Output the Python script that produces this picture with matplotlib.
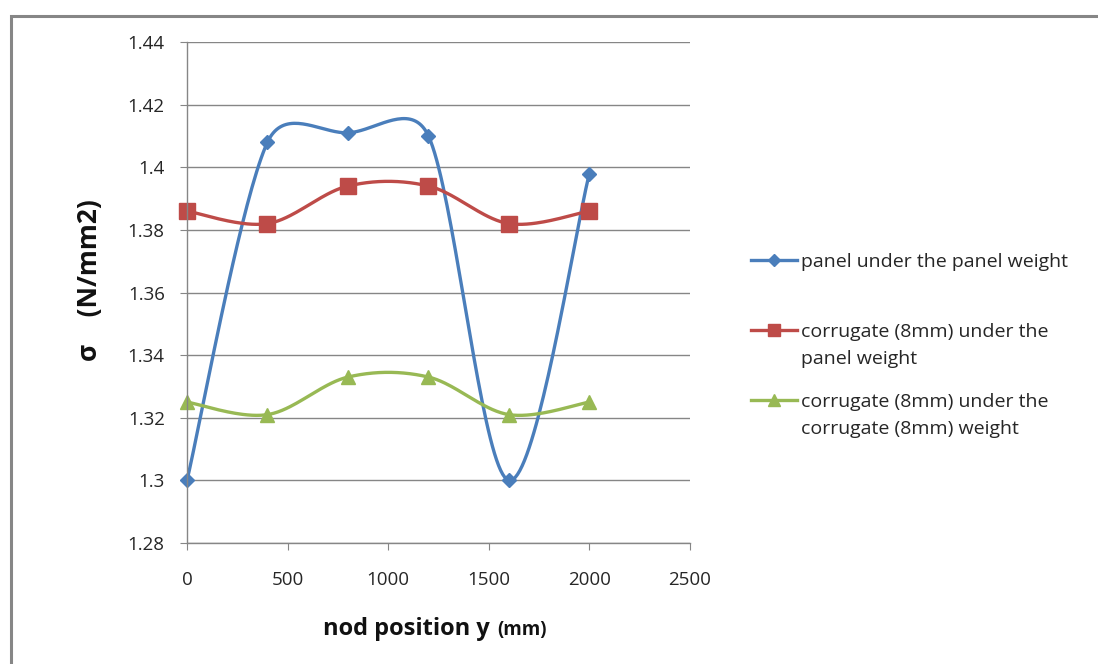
import numpy as np
import matplotlib.pyplot as plt
from matplotlib.patches import Rectangle
from matplotlib.lines import Line2D

plt.rcParams['font.family'] = ['Open Sans', 'DejaVu Sans']

# data
y_pos = [0, 400, 800, 1200, 1600, 2000]
panel_panel = [1.300, 1.408, 1.411, 1.410, 1.300, 1.398]
corr_panel = [1.386, 1.382, 1.394, 1.394, 1.382, 1.386]
corr_corr = [1.325, 1.321, 1.333, 1.333, 1.321, 1.325]

labels = ["panel under the panel weight",
          "corrugate (8mm) under the\npanel weight",
          "corrugate (8mm) under the\ncorrugate (8mm) weight"]
colors = ["#4A7EBB", "#BE4B48", "#98B954"]
markers = ["D", "s", "^"]
msizes = [7.5, 11, 10]

# axes box in pixels
AX_L, AX_R, AX_T, AX_B = 187, 690, 42, 543
XMAX, YMIN, YMAX = 2500, 1.28, 1.44


def smooth(x, y, n=40):
    # bezier smoothing like spreadsheet "smoothed line": tangent from neighbours,
    # control arms 1/6 of it, but never longer than half the segment (in pixels)
    sx = (AX_R - AX_L) / XMAX
    sy = (AX_B - AX_T) / (YMAX - YMIN)
    p = np.column_stack([np.asarray(x, float) * sx, np.asarray(y, float) * sy])
    k = len(p)
    xs, ys = [], []
    t = np.linspace(0, 1, n)[:, None]
    for i in range(k - 1):
        p1, p2 = p[i], p[i + 1]
        seg = np.linalg.norm(p2 - p1)
        p0 = p[i - 1] if i > 0 else p1
        p3 = p[i + 2] if i + 2 < k else p2
        t1 = (p2 - p0) / 6
        t2 = (p3 - p1) / 6
        if np.linalg.norm(t1) > seg / 2:
            t1 = t1 / np.linalg.norm(t1) * seg / 2
        if np.linalg.norm(t2) > seg / 2:
            t2 = t2 / np.linalg.norm(t2) * seg / 2
        c1 = p1 + t1
        c2 = p2 - t2
        b = (1 - t)**3 * p1 + 3 * (1 - t)**2 * t * c1 + 3 * (1 - t) * t**2 * c2 + t**3 * p2
        xs.extend(b[:, 0] / sx)
        ys.extend(b[:, 1] / sy)
    return xs, ys


W, H = 1098, 664
fig = plt.figure(figsize=(W / 100, H / 100), dpi=100)
fig.patches.append(Rectangle((11 / W, -0.1), 1.2, 1.1 - 16.5 / H,
                             transform=fig.transFigure, fill=False,
                             edgecolor="#868686", linewidth=2.2))
ax = fig.add_axes([AX_L / W, 1 - AX_B / H, (AX_R - AX_L) / W, (AX_B - AX_T) / H])

for vals, c, m, ms in zip([panel_panel, corr_panel, corr_corr], colors, markers, msizes):
    sx, sy = smooth(y_pos, vals)
    ax.plot(sx, sy, color=c, linewidth=2.4, solid_capstyle='round')
    ax.plot(y_pos, vals, linestyle='none', marker=m, color=c, markersize=ms, clip_on=False)

ax.set_xlim(0, XMAX)
ax.set_ylim(YMIN, YMAX)
ax.set_xticks(np.arange(0, 2501, 500))
ax.set_yticks(np.arange(1.28, 1.4401, 0.02))
ax.set_yticklabels(["1.28", "1.3", "1.32", "1.34", "1.36", "1.38", "1.4", "1.42", "1.44"])
ax.yaxis.grid(True, color="#868686", linewidth=1)
ax.set_axisbelow(True)
for s in ["top", "right"]:
    ax.spines[s].set_visible(False)
for s in ["left", "bottom"]:
    ax.spines[s].set_color("#868686")
    ax.spines[s].set_linewidth(1)
ax.tick_params(axis='both', colors="#868686", labelcolor="#262626", labelsize=13.5, length=5)
ax.tick_params(axis='y', pad=11)
ax.tick_params(axis='x', pad=15)

fig.text(90 / W, 1 - 280 / H, "σ    (N/mm2)", fontsize=19, fontweight='bold',
         rotation=90, ha='center', va='center', color="#111111")
fig.text(490 / W, 1 - 629 / H, "nod position y", fontsize=17, fontweight='bold',
         ha='right', va='center', color="#111111")
fig.text(497 / W, 1 - 630 / H, "(mm)", fontsize=13.5, fontweight='bold',
         ha='left', va='center', color="#111111")

# legend, drawn by hand so the key sits on the first line of each label
leg_rows = [260, 330, 400]
for lab, c, m, ms, row in zip(labels, colors, markers, msizes, leg_rows):
    yf = 1 - row / H
    fig.add_artist(Line2D([751 / W, 797 / W], [yf, yf], color=c, linewidth=2.4,
                          transform=fig.transFigure))
    fig.add_artist(Line2D([774 / W], [yf], color=c, marker=m, markersize=ms * 0.8,
                          transform=fig.transFigure))
    fig.text(801 / W, yf + 7 / H, lab, fontsize=14, ha='left', va='top', color="#262626",
             linespacing=1.62)

fig.savefig("out.png", dpi=100)
